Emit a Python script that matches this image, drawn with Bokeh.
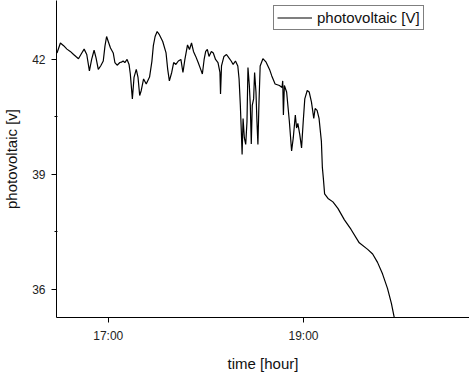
from bokeh.plotting import figure
from bokeh.models import FixedTicker, Range1d, Legend, LegendItem
from bokeh.embed import file_html
from bokeh.resources import INLINE

# time in hours, photovoltaic voltage [V]
time_h = [16.475, 16.510, 16.543, 16.577, 16.611, 16.645, 16.672, 16.695, 16.729, 16.753,
          16.780, 16.807, 16.830, 16.855, 16.875, 16.898, 16.922, 16.949, 16.966, 16.983,
          17.000, 17.023, 17.051, 17.068, 17.091, 17.119, 17.135, 17.152, 17.170, 17.193,
          17.213, 17.226, 17.247, 17.264, 17.287, 17.305, 17.322, 17.338, 17.362, 17.389,
          17.423, 17.447, 17.462, 17.480, 17.501, 17.525, 17.558, 17.592, 17.609, 17.626,
          17.650, 17.670, 17.693, 17.718, 17.744, 17.765, 17.785, 17.812, 17.832, 17.853,
          17.873, 17.896, 17.921, 17.947, 17.964, 17.982, 17.998, 18.015, 18.032, 18.056,
          18.076, 18.099, 18.124, 18.144, 18.150, 18.160, 18.185, 18.211, 18.236, 18.259,
          18.279, 18.303, 18.327, 18.340, 18.353, 18.363, 18.371, 18.381, 18.394, 18.408,
          18.421, 18.431, 18.445, 18.455, 18.465, 18.475, 18.489, 18.499, 18.513, 18.523,
          18.533, 18.543, 18.556, 18.584, 18.617, 18.652, 18.675, 18.709, 18.753, 18.780,
          18.787, 18.794, 18.804, 18.827, 18.855, 18.878, 18.895, 18.916, 18.929, 18.942,
          18.962, 18.980, 18.997, 19.013, 19.038, 19.058, 19.081, 19.105, 19.119, 19.139,
          19.159, 19.183, 19.193, 19.203, 19.216, 19.251, 19.301, 19.352, 19.419, 19.487,
          19.571, 19.657, 19.708, 19.758, 19.809, 19.860, 19.900, 19.927, 19.944]
voltage = [42.17, 42.43, 42.36, 42.27, 42.21, 42.13, 42.07, 42.02, 42.17, 42.27,
           42.13, 41.70, 42.00, 42.24, 42.04, 41.74, 41.83, 41.96, 42.34, 42.60,
           42.47, 42.30, 42.17, 41.92, 41.85, 41.92, 41.93, 41.96, 41.92, 42.00,
           41.87, 41.62, 40.97, 41.53, 41.74, 41.53, 41.06, 41.19, 41.49, 41.36,
           41.54, 41.95, 42.36, 42.60, 42.73, 42.64, 42.47, 42.17, 41.74, 41.44,
           41.66, 41.92, 41.87, 41.96, 42.00, 41.66, 42.00, 42.38, 42.26, 42.43,
           42.21, 42.08, 41.92, 41.74, 41.62, 42.00, 42.21, 42.26, 42.08, 42.21,
           42.17, 42.00, 41.92, 41.66, 41.10, 41.83, 42.08, 42.13, 42.04, 41.96,
           41.87, 41.96, 41.83, 41.49, 40.80, 40.12, 39.52, 40.46, 39.95, 39.78,
           40.38, 41.79, 41.32, 40.80, 39.79, 40.80, 40.97, 41.66, 41.15, 40.38,
           39.78, 40.80, 41.83, 42.02, 41.93, 41.74, 41.57, 41.36, 41.32, 41.27,
           41.44, 40.55, 41.32, 41.15, 40.38, 39.61, 39.95, 40.55, 40.21, 40.33,
           40.03, 39.69, 40.38, 40.97, 41.19, 41.15, 40.89, 40.46, 40.72, 40.67,
           40.46, 39.86, 39.18, 38.90, 38.49, 38.37, 38.28, 38.11, 37.81, 37.56,
           37.21, 37.04, 36.92, 36.70, 36.40, 36.02, 35.63, 35.29, 35.08]

x_ticks = [17, 19]
x_tick_labels = ["17:00", "19:00"]
y_ticks = [36, 39, 42]
y_minor_ticks = [37.5, 40.5]
series_label = "photovoltaic [V]"

FONT = "Liberation Sans"

p = figure(width=469, height=374, output_backend="svg", toolbar_location=None,
           x_range=Range1d(16.47, 20.70), y_range=Range1d(35.26, 43.54),
           min_border_left=53, min_border_right=0, min_border_top=0, min_border_bottom=51)
p.outline_line_color = None
p.xgrid.visible = False
p.ygrid.visible = False
p.background_fill_color = "white"
p.border_fill_color = "white"

r = p.line(time_h, voltage, line_color="black", line_width=1.2)

# axes
p.xaxis.ticker = FixedTicker(ticks=x_ticks)
p.xaxis.major_label_overrides = {t: l for t, l in zip(x_ticks, x_tick_labels)}
p.xaxis.axis_label = "time [hour]"
p.yaxis.ticker = FixedTicker(ticks=y_ticks, minor_ticks=y_minor_ticks)
p.yaxis.axis_label = "photovoltaic [v]"

for ax in (p.xaxis[0], p.yaxis[0]):
    ax.axis_line_color = "black"
    ax.axis_line_width = 1
    ax.major_tick_line_color = "black"
    ax.minor_tick_line_color = "black"
    ax.major_tick_out = 5
    ax.major_tick_in = 0
    ax.minor_tick_out = 2
    ax.minor_tick_in = 1
    ax.major_label_text_font = FONT
    ax.major_label_text_font_size = "12px"
    ax.major_label_text_color = "#222222"
    ax.axis_label_text_font = FONT
    ax.axis_label_text_font_size = "15px"
    ax.axis_label_text_font_style = "normal"
    ax.axis_label_text_color = "#111111"

p.xaxis.major_label_standoff = 6
p.xaxis.axis_label_standoff = 9
p.yaxis.major_label_standoff = 6
p.yaxis.axis_label_standoff = 9

legend = Legend(items=[LegendItem(label=series_label, renderers=[r])],
                location=(217, 287))
legend.border_line_color = "black"
legend.border_line_width = 1
legend.background_fill_color = "white"
legend.background_fill_alpha = 1
legend.label_text_font = FONT
legend.label_text_font_size = "15px"
legend.label_text_color = "#111111"
legend.glyph_width = 35
legend.glyph_height = 17
legend.label_height = 17
legend.label_standoff = 5
legend.padding = 3
legend.margin = 0
legend.spacing = 0
p.add_layout(legend)

open("out.html", "w").write(file_html(p, INLINE))
